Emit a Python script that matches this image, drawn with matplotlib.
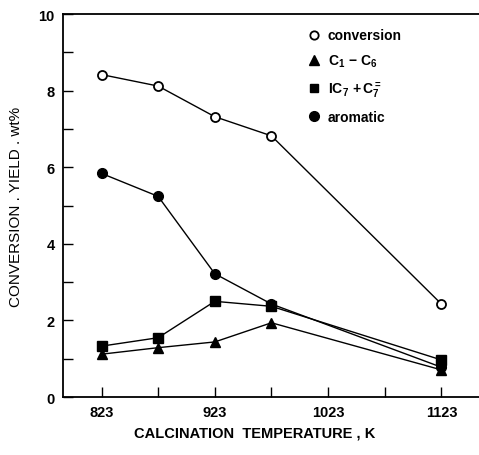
import numpy as np
from matplotlib import pyplot as plt
from matplotlib.lines import Line2D
from matplotlib.ticker import MultipleLocator, FixedLocator

plt.rcParams['font.family'] = 'Liberation Sans'
plt.rcParams['mathtext.fontset'] = 'custom'
plt.rcParams['mathtext.rm'] = 'Liberation Sans'
plt.rcParams['mathtext.it'] = 'Liberation Sans'

temp = [823, 873, 923, 973, 1123]
conversion = [8.42, 8.12, 7.32, 6.82, 2.43]
c1_c6 = [1.12, 1.29, 1.44, 1.94, 0.71]
ic7_c7 = [1.33, 1.55, 2.50, 2.37, 0.97]
aromatic = [5.84, 5.24, 3.22, 2.43, 0.78]

xticks = [823, 923, 1023, 1123]
xminor = [873, 973, 1073]

fig = plt.figure(figsize=(4.79, 4.56), dpi=100)
ax = fig.add_axes([0.1315, 0.127, 0.868, 0.84])

lw = 1.0
ax.plot(temp, conversion, '-o', color='black', mfc='white', mec='black',
        ms=6.5, mew=1.3, lw=lw)
ax.plot(temp, c1_c6, '-^', color='black', ms=7, lw=lw)
ax.plot(temp, ic7_c7, '-s', color='black', ms=6.5, lw=lw)
ax.plot(temp, aromatic, '-o', color='black', ms=7, lw=lw)

ax.set_xlim(789, 1156)
ax.set_ylim(0, 10)
ax.set_xticks(xticks)
ax.xaxis.set_minor_locator(FixedLocator(xminor))
ax.yaxis.set_major_locator(MultipleLocator(2))
ax.yaxis.set_minor_locator(MultipleLocator(1))
ax.tick_params(which='both', direction='in', width=1.0)
ax.tick_params(which='major', length=7, labelsize=10.5, pad=6)
ax.tick_params(which='minor', length=7)
for lab in ax.get_xticklabels() + ax.get_yticklabels():
    lab.set_fontweight('bold')
ax.spines['right'].set_visible(False)
for s in ['left', 'bottom', 'top']:
    ax.spines[s].set_linewidth(1.3)

ax.set_xlabel('CALCINATION  TEMPERATURE , K', fontsize=10.5, fontweight='bold')
ax.set_ylabel('CONVERSION . YIELD . wt%', fontsize=11)
ax.xaxis.set_label_coords(0.46, -0.075)
ax.yaxis.set_label_coords(-0.095, 0.5)

handles = [
    Line2D([], [], ls='none', marker='o', color='black', mfc='white', ms=6, mew=1.3),
    Line2D([], [], ls='none', marker='^', color='black', ms=7),
    Line2D([], [], ls='none', marker='s', color='black', ms=6),
    Line2D([], [], ls='none', marker='o', color='black', ms=7),
]
labels = ['conversion', r'$\mathregular{C_1\,-\,C_6}$',
          r'$\mathregular{IC_7\,+C_7^=}$', 'aromatic']
leg = ax.legend(handles, labels, loc='upper left', bbox_to_anchor=(0.56, 0.995),
                frameon=False, handlelength=0.8, handletextpad=0.6,
                labelspacing=0.75, prop={'weight': 'bold', 'size': 10})

fig.savefig('out.png', dpi=100)
